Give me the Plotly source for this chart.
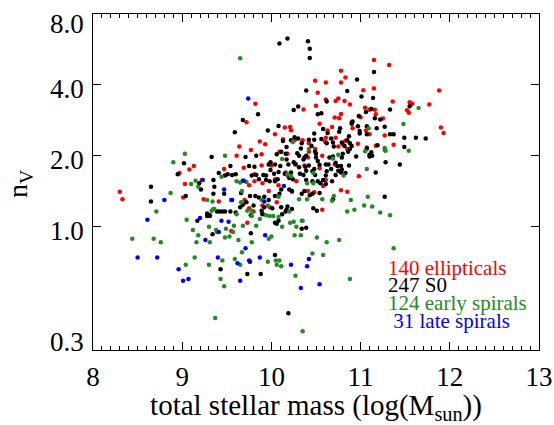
import math
import plotly.graph_objects as go

# galaxy samples: (log stellar mass, n_V)
ellipticals = [
    (8.30, 1.41), (8.33, 1.31), (8.97, 1.69), (9.03, 1.52), (9.13, 1.81), (9.08, 1.75),
    (9.01, 1.33), (9.22, 1.58), (9.24, 1.31), (9.41, 1.28), (9.47, 1.76), (9.55, 0.96),
    (9.61, 2.00), (9.64, 2.19), (9.72, 2.78), (9.77, 2.12), (9.73, 1.04), (9.82, 3.33),
    (9.87, 2.30), (9.93, 2.24), (9.89, 2.03), (9.89, 1.82), (9.81, 1.56), (9.90, 1.53),
    (9.70, 1.30), (9.75, 1.20), (10.00, 1.82), (10.06, 1.27), (10.04, 2.47), (10.15, 2.64),
    (10.21, 2.65), (10.22, 2.57), (10.13, 2.35), (10.18, 2.04), (10.18, 1.65), (10.28, 1.56),
    (10.36, 3.15), (10.42, 2.26), (10.42, 2.08), (10.41, 1.42), (10.48, 1.40), (10.49, 4.17),
    (10.50, 3.26), (10.52, 3.71), (10.57, 1.18), (10.57, 2.00), (10.58, 1.49), (10.61, 3.47),
    (10.61, 4.10), (10.61, 2.39), (10.63, 2.56), (10.72, 2.39), (10.75, 3.50), (10.72, 3.42),
    (10.78, 3.01), (10.71, 2.91), (10.76, 2.89), (10.78, 4.60), (10.82, 3.42), (10.83, 4.30),
    (10.78, 4.10), (10.78, 1.43), (10.85, 1.41), (10.91, 2.62), (11.00, 2.92), (10.98, 1.64),
    (11.03, 3.80), (11.05, 3.20), (11.06, 2.56), (11.10, 2.47), (11.07, 2.17), (11.15, 3.86),
    (11.15, 5.10), (11.16, 3.14), (11.10, 3.14), (11.17, 2.21), (11.25, 2.88), (11.27, 2.44),
    (11.32, 4.86), (11.36, 3.40), (11.37, 2.23), (11.55, 3.38), (11.58, 3.33), (11.77, 3.30),
    (11.52, 3.12), (11.54, 3.05), (11.90, 2.64), (11.93, 2.50), (11.88, 3.79), (10.75, 2.19),
    (10.85, 2.14), (10.88, 3.30), (10.54, 2.74), (10.90, 2.78), (10.68, 2.65), (10.35, 2.33),
    (10.49, 2.14), (10.60, 2.30), (10.80, 2.24), (10.83, 2.32), (10.97, 2.25), (10.41, 1.97),
    (10.54, 1.77), (10.16, 1.70), (10.04, 1.59), (10.08, 1.50), (9.80, 1.16), (9.90, 1.14),
    (10.26, 2.33), (9.69, 1.78), (9.81, 1.67), (10.23, 1.41), (10.61, 1.58), (10.71, 1.84),
    (10.37, 1.82), (10.27, 1.85), (11.17, 3.00), (9.90, 1.23), (9.98, 1.21), (9.97, 1.42),
    (9.75, 1.50), (10.09, 2.08),
]

s0 = [
    (10.09, 5.99), (10.18, 6.30), (10.41, 6.13), (10.43, 5.69), (10.43, 5.21), (11.15, 4.54),
    (10.96, 4.22), (10.39, 3.79), (10.85, 3.77), (11.01, 3.57), (11.14, 3.52), (11.55, 3.25),
    (10.30, 3.24), (10.25, 3.13), (10.52, 3.00), (10.56, 3.03), (9.85, 3.00), (9.68, 2.84),
    (10.08, 2.68), (9.96, 2.56), (9.59, 2.52), (10.62, 3.40), (10.98, 2.95), (11.06, 3.07),
    (11.12, 3.16), (11.16, 2.89), (11.22, 2.85), (11.33, 3.15), (10.90, 2.74), (10.97, 2.67),
    (11.07, 2.67), (11.18, 2.62), (11.27, 2.66), (10.77, 2.62), (10.58, 2.60), (10.63, 2.50),
    (11.07, 2.47), (11.33, 2.47), (11.37, 2.47), (11.49, 2.39), (11.62, 2.39), (11.73, 2.37),
    (11.49, 2.18), (10.26, 2.40), (10.30, 2.37), (10.56, 2.36), (10.67, 2.37), (10.13, 2.31),
    (10.17, 2.18), (10.11, 2.08), (10.34, 2.26), (10.33, 2.15), (10.45, 2.20), (10.49, 2.08),
    (10.50, 2.04), (10.39, 2.00), (10.37, 1.97), (10.62, 2.26), (10.70, 2.19), (10.79, 2.28),
    (10.82, 2.20), (10.88, 2.26), (10.90, 2.20), (10.86, 2.08), (10.80, 2.04), (11.07, 2.15),
    (11.12, 2.07), (11.10, 2.02), (11.13, 2.00), (11.10, 1.99), (10.95, 1.99), (9.33, 1.98),
    (9.71, 1.98), (9.83, 2.00), (10.31, 2.00), (10.52, 1.90), (11.28, 1.88), (11.44, 1.84),
    (9.02, 1.86), (8.95, 1.67), (9.54, 1.81), (9.60, 1.67), (9.75, 1.81), (9.81, 1.80),
    (9.97, 1.84), (10.08, 1.71), (10.03, 1.68), (10.19, 1.84), (10.27, 1.84), (10.31, 1.79),
    (10.38, 1.80), (10.42, 1.82), (10.46, 1.72), (10.48, 1.76), (10.54, 1.83), (10.61, 1.84),
    (10.64, 1.84), (10.67, 1.76), (10.74, 1.81), (10.75, 1.73), (10.79, 1.75), (10.72, 1.66),
    (10.78, 1.70), (11.17, 1.70), (9.83, 1.66), (9.78, 1.65), (9.41, 1.69), (9.48, 1.65),
    (9.51, 1.67), (9.56, 1.66), (9.91, 1.66), (9.94, 1.65), (10.15, 1.68), (10.32, 1.68),
    (10.36, 1.66), (10.49, 1.66), (10.25, 1.88), (10.17, 1.93), (8.65, 1.48), (9.35, 1.58),
    (9.36, 1.48), (9.68, 1.57), (9.86, 1.59), (9.94, 1.58), (9.98, 1.56), (10.04, 1.56),
    (10.07, 1.59), (10.20, 1.61), (10.24, 1.59), (10.39, 1.58), (10.46, 1.56), (10.52, 1.56),
    (10.58, 1.58), (10.61, 1.52), (10.68, 1.56), (10.55, 1.53), (9.04, 1.35), (9.21, 1.44),
    (9.35, 1.38), (9.47, 1.38), (9.66, 1.39), (9.76, 1.35), (9.82, 1.35), (9.86, 1.33),
    (9.92, 1.34), (9.97, 1.30), (10.04, 1.35), (10.09, 1.38), (10.11, 1.44), (10.20, 1.44),
    (10.23, 1.42), (10.34, 1.38), (10.37, 1.42), (10.43, 1.36), (10.46, 1.38), (10.54, 1.39),
    (10.69, 1.31), (11.27, 1.34), (8.65, 1.28), (9.72, 1.27), (9.56, 1.30), (9.31, 1.12),
    (9.31, 1.11), (9.39, 1.16), (9.42, 1.16), (9.45, 1.16), (9.48, 1.16), (9.54, 1.16),
    (9.60, 1.15), (9.65, 1.21), (9.17, 1.06), (9.77, 1.12), (9.92, 1.21), (10.01, 1.20),
    (10.04, 1.04), (10.08, 1.06), (10.11, 1.21), (10.18, 1.22), (10.16, 1.16), (10.47, 1.20),
    (10.51, 1.17), (10.34, 0.98), (10.39, 0.99), (9.77, 0.94), (9.34, 0.93), (10.04, 0.76),
    (9.76, 0.71), (9.43, 0.66), (9.73, 0.63), (9.88, 0.63), (10.19, 0.43), (9.28, 1.14),
    (9.28, 1.11), (9.68, 1.24), (9.80, 1.23), (9.89, 1.17), (9.90, 1.13), (10.12, 1.13),
    (10.17, 1.18), (10.23, 1.19), (10.06, 1.03), (9.19, 1.53), (10.91, 2.80), (10.48, 2.49),
    (10.22, 2.33), (10.42, 2.34), (10.48, 2.34), (10.69, 2.28), (10.76, 2.53), (10.87, 2.42),
    (10.85, 2.33), (10.88, 2.14), (10.99, 2.55), (10.99, 2.49), (11.19, 2.22), (10.16, 2.04),
    (10.06, 2.03), (9.99, 1.88), (10.04, 1.84), (10.29, 2.05), (10.36, 1.93), (10.50, 1.97),
    (10.65, 1.97), (10.69, 1.99), (10.79, 1.97), (10.72, 1.87), (10.39, 1.73), (10.62, 1.72),
    (10.78, 1.81), (10.83, 1.69), (10.61, 1.65), (10.22, 1.70), (10.10, 1.81), (9.99, 1.74),
    (10.87, 1.82),
]

early_spirals = [
    (9.65, 5.19), (11.65, 3.19), (11.48, 2.73), (11.09, 2.62), (11.27, 2.16), (11.28, 2.10),
    (11.05, 2.09), (9.03, 2.04), (9.48, 2.00), (8.90, 1.88), (10.69, 1.95), (11.07, 1.76),
    (10.81, 1.65), (9.15, 1.57), (9.10, 1.52), (9.18, 1.48), (9.44, 1.63), (9.61, 1.56),
    (9.65, 1.54), (9.72, 1.55), (10.22, 1.64), (10.40, 1.53), (10.47, 1.53), (8.87, 1.39),
    (8.71, 1.16), (9.28, 1.30), (9.34, 1.28), (9.67, 1.42), (9.89, 1.30), (10.08, 1.34),
    (10.31, 1.31), (10.40, 1.31), (10.57, 1.31), (10.68, 1.29), (10.70, 1.35), (10.89, 1.30),
    (10.85, 1.16), (10.93, 1.18), (11.08, 1.34), (11.04, 1.23), (11.13, 1.22), (11.22, 1.15),
    (11.33, 1.12), (9.05, 1.07), (9.33, 1.17), (9.36, 1.19), (9.61, 1.13), (9.66, 1.27),
    (9.73, 1.17), (9.87, 1.08), (9.98, 1.11), (10.02, 1.11), (9.96, 1.23), (10.20, 1.16),
    (10.25, 1.05), (10.34, 1.06), (8.44, 0.89), (8.68, 0.89), (8.76, 0.86), (9.12, 0.97),
    (9.18, 0.92), (9.16, 0.86), (9.31, 0.86), (9.39, 0.95), (9.48, 0.90), (9.53, 0.91),
    (9.57, 0.95), (9.63, 0.88), (9.68, 1.01), (9.78, 0.86), (9.83, 1.01), (9.97, 0.89),
    (10.00, 0.91), (10.12, 1.00), (10.21, 1.04), (10.28, 1.00), (10.35, 1.06), (10.26, 0.92),
    (10.33, 0.92), (10.51, 0.90), (10.62, 0.86), (10.76, 0.88), (9.14, 0.74), (9.67, 0.78),
    (11.37, 0.81), (9.45, 0.72), (9.59, 0.73), (9.96, 0.71), (10.05, 0.72), (10.09, 0.72),
    (10.06, 0.69), (10.11, 0.68), (10.46, 0.77), (10.58, 0.76), (9.04, 0.69), (9.30, 0.69),
    (9.65, 0.69), (10.27, 0.62), (9.43, 0.60), (9.47, 0.56), (10.88, 0.60), (9.37, 0.41),
    (10.35, 0.36), (9.30, 1.00), (9.38, 0.97), (9.49, 0.98), (9.58, 1.01), (9.35, 1.19),
    (9.78, 1.17), (9.78, 1.11), (9.94, 1.12), (10.08, 1.10), (11.54, 2.10), (11.27, 2.12),
    (10.24, 2.29), (10.12, 1.94), (10.42, 2.14), (10.75, 2.02), (10.47, 1.69), (10.18, 1.67),
]

late_spirals = [
    (9.74, 3.50), (9.23, 1.58), (9.69, 1.57), (9.47, 1.44), (10.14, 1.49), (8.80, 1.30),
    (9.55, 1.30), (9.92, 1.28), (8.61, 1.07), (9.20, 1.09), (9.44, 1.06), (9.52, 1.05),
    (9.41, 0.95), (9.26, 0.88), (9.93, 0.92), (9.71, 0.81), (8.50, 0.74), (8.72, 0.74),
    (9.40, 0.74), (9.75, 0.72), (9.87, 0.74), (10.42, 0.73), (9.62, 0.70), (10.22, 0.69),
    (10.40, 0.68), (8.96, 0.66), (9.01, 0.59), (9.07, 0.60), (9.65, 0.59), (10.33, 0.55),
    (10.54, 0.57),
]

y_ticks = [0.3, 1.0, 2.0, 4.0, 8.0]
y_tick_text = ['0.3', '1.0', '2.0', '4.0', '8.0']

classes = [
    ("140 ellipticals", ellipticals, "#ff0000"),
    ("247 S0", s0, "#000000"),
    ("124 early spirals", early_spirals, "#228b22"),
    ("&nbsp;31 late spirals", late_spirals, "#0000ff"),
]

SERIF = 'Liberation Serif'

fig = go.Figure()
for name, pts, color in classes:
    fig.add_trace(go.Scatter(
        x=[p[0] for p in pts],
        y=[p[1] for p in pts],
        mode='markers',
        marker=dict(color=color, size=4.5),
        name=name,
        showlegend=False,
    ))

# text legend inside the plot
legend_y = [0.244, 0.193, 0.139, 0.086]
for (name, pts, color), yy in zip(classes, legend_y):
    fig.add_annotation(
        x=0.657, y=yy, xref='paper', yref='paper',
        text=name, showarrow=False, xanchor='left', yanchor='middle',
        font=dict(family=SERIF, size=21, color=color),
    )

# y tick labels, IDL style (end labels pulled inside)
shifts = {0.3: 8, 8.0: -10}
for val, txt in zip(y_ticks, y_tick_text):
    fig.add_annotation(
        x=0, y=math.log10(val), xref='paper', yref='y',
        text=txt, showarrow=False, xanchor='right', yanchor='middle',
        xshift=-7, yshift=shifts.get(val, -4),
        font=dict(family=SERIF, size=27, color='black'),
    )

fig.add_annotation(
    x=0, y=0.5, xref='paper', yref='paper', xshift=-74, yshift=-2,
    text='n<sub>V</sub>', textangle=-90, showarrow=False,
    xanchor='center', yanchor='middle',
    font=dict(family=SERIF, size=28, color='black'),
)

fig.update_layout(
    width=554, height=425,
    margin=dict(l=93, r=15, t=14, b=75, autoexpand=False),
    paper_bgcolor='white', plot_bgcolor='white',
    font=dict(family=SERIF, size=27, color='black'),
    xaxis=dict(
        range=[8, 13], tickvals=[8, 9, 10, 11, 12, 13],
        ticks='inside', ticklen=8, tickcolor='black', ticklabelstandoff=3,
        minor=dict(dtick=0.1, ticks='inside', ticklen=4, tickcolor='black'),
        showline=True, linecolor='black', linewidth=1, mirror='ticks',
        showgrid=False, zeroline=False, automargin=False,
        title=dict(text='total stellar mass (log(M<sub>sun</sub>))', standoff=3,
                   font=dict(family=SERIF, size=29)),
    ),
    yaxis=dict(
        type='log', range=[math.log10(0.3), math.log10(8)],
        tickvals=y_ticks, showticklabels=False,
        ticks='inside', ticklen=8, tickcolor='black',
        showline=True, linecolor='black', linewidth=1, mirror='ticks',
        showgrid=False, zeroline=False, automargin=False,
    ),
)

# drop the browser's default page margin so the figure fills the window
fig.write_html(
    "out.html",
    config={'displayModeBar': False},
    post_script="document.body.style.margin = '0';",
)
